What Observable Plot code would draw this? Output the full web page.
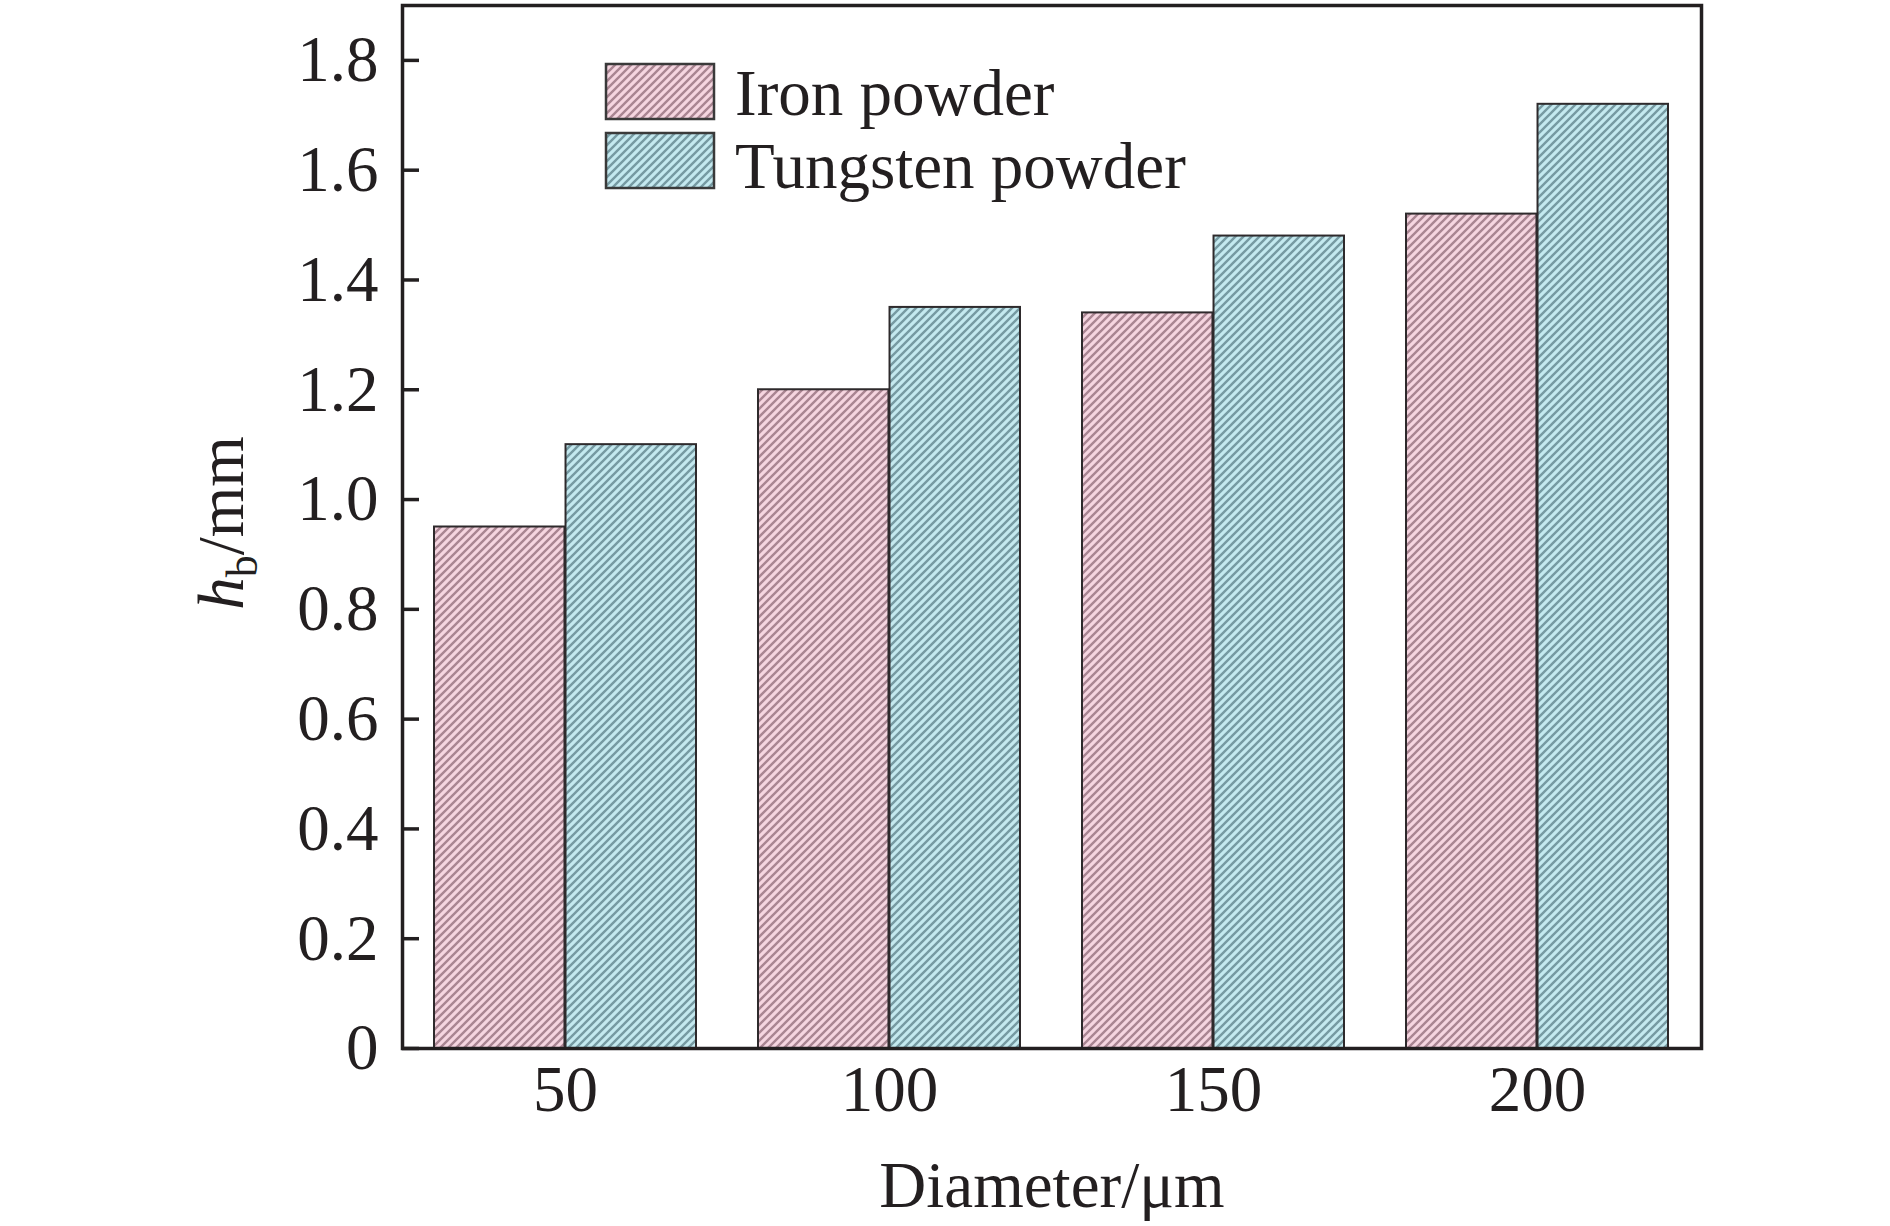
<!DOCTYPE html>
<html>
<head>
<meta charset="utf-8">
<script src="https://cdn.jsdelivr.net/npm/d3@7"></script>
<script src="https://cdn.jsdelivr.net/npm/@observablehq/plot@0.6"></script>
<style>
  body { margin: 0; background: #ffffff; }
  #chart svg { display: block; }
</style>
</head>
<body>
<div id="chart"></div>
<script>
// ---- data ----
const diameters = ["50", "100", "150", "200"];
const ironValues = [0.95, 1.20, 1.34, 1.52];
const tungstenValues = [1.10, 1.35, 1.48, 1.72];
const seriesNames = ["Iron powder", "Tungsten powder"];
const yTicks = [0, 0.2, 0.4, 0.6, 0.8, 1.0, 1.2, 1.4, 1.6, 1.8];
const xLabel = "Diameter/\u03bcm";

// ---- layout ----
const W = 1890, H = 1226;
const mL = 402, mR = 189, mT = 5, mB = 178;
const padIn = 0.19, padOut = 0.095;
const plotW = W - mL - mR;
const step = plotW / (diameters.length - padIn + 2 * padOut);
const half = step * (1 - padIn) / 2;
const tickLen = 17;
const FONT = "'Liberation Serif', 'Times New Roman', Times, serif";
const INK = "#231f20";

const iron = diameters.map((d, i) => ({diameter: d, value: ironValues[i], series: seriesNames[0]}));
const tungsten = diameters.map((d, i) => ({diameter: d, value: tungstenValues[i], series: seriesNames[1]}));

const plot = Plot.plot({
  width: W, height: H,
  marginLeft: mL, marginRight: mR, marginTop: mT, marginBottom: mB,
  style: {fontFamily: FONT, fontSize: "65px", color: INK, background: "#ffffff"},
  x: {type: "band", domain: diameters, paddingInner: padIn, paddingOuter: padOut, align: 0.5},
  y: {domain: [0, 1.9]},
  marks: [
    Plot.barY(iron, {x: "diameter", y: "value", insetRight: half, fill: "url(#hatch-iron)", stroke: "#2e2a2c", strokeWidth: 2}),
    Plot.barY(tungsten, {x: "diameter", y: "value", insetLeft: half, fill: "url(#hatch-tungsten)", stroke: "#2e2a2c", strokeWidth: 2}),
    // inward tick marks on the left edge
    Plot.tickY(yTicks, {y: d => d, insetRight: plotW - tickLen, stroke: INK, strokeWidth: 3.5}),
    // tick labels
    Plot.axisY({ticks: yTicks, tickSize: 0, tickPadding: 24, label: null,
                tickFormat: d => d === 0 ? "0" : d.toFixed(1)}),
    Plot.axisX({tickSize: 0, tickPadding: 16, label: null}),
    Plot.frame({stroke: INK, strokeWidth: 3.5})
  ]
});

document.getElementById("chart").appendChild(plot);

// ---- hatch patterns ----
const svg = d3.select(plot);
const defs = svg.insert("defs", ":first-child");
function hatch(id, base, line) {
  const s = 8;
  const p = defs.append("pattern").attr("id", id).attr("patternUnits", "userSpaceOnUse")
    .attr("width", s).attr("height", s);
  p.append("rect").attr("width", s).attr("height", s).attr("fill", base);
  p.append("path").attr("d", `M-2,2 l4,-4 M0,${s} l${s},-${s} M${s - 2},${s + 2} l4,-4`)
    .attr("stroke", line).attr("stroke-width", 2.4).attr("fill", "none");
}
hatch("hatch-iron", "#f5d5e0", "#a98592");
hatch("hatch-tungsten", "#c4e9ef", "#769aa2");

// ---- legend ----
const leg = svg.append("g").attr("font-family", FONT).attr("font-size", 65).attr("fill", INK)
  .attr("text-anchor", "start");
const legendRows = [
  {name: seriesNames[0], fill: "url(#hatch-iron)", y: 64, base: 115},
  {name: seriesNames[1], fill: "url(#hatch-tungsten)", y: 133, base: 188}
];
legendRows.forEach(r => {
  leg.append("rect").attr("x", 606).attr("y", r.y).attr("width", 108).attr("height", 55)
    .attr("fill", r.fill).attr("stroke", "#3a3a3a").attr("stroke-width", 2.5);
  leg.append("text").attr("x", 735).attr("y", r.base).attr("text-anchor", "start").text(r.name);
});

// ---- axis titles ----
svg.append("text").attr("x", 1052).attr("y", 1207).attr("text-anchor", "middle")
  .attr("font-family", FONT).attr("font-size", 65).attr("fill", INK).text(xLabel);

const yl = svg.append("text").attr("transform", "translate(243,523) rotate(-90)")
  .attr("text-anchor", "middle").attr("font-family", FONT).attr("font-size", 65).attr("fill", INK);
yl.append("tspan").attr("font-style", "italic").text("h");
yl.append("tspan").attr("font-size", 44).attr("dy", 14).text("b");
yl.append("tspan").attr("dy", -14).text("/mm");
</script>
</body>
</html>
